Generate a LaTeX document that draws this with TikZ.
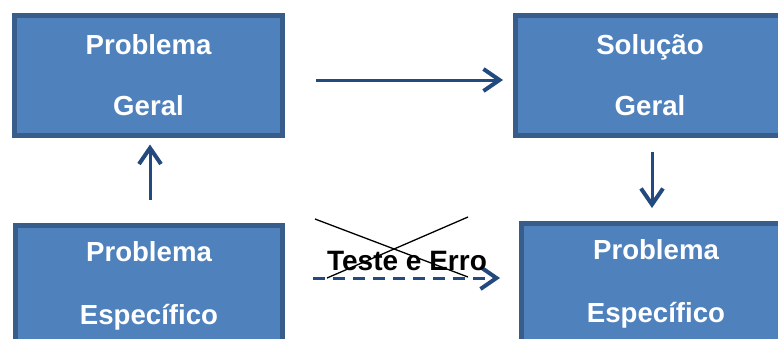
\documentclass[tikz,border=0pt]{standalone}
\usepackage{fontspec}
\setmainfont{Liberation Sans}
\usetikzlibrary{arrows.meta}
\definecolor{boxfill}{HTML}{4F81BD}
\definecolor{boxedge}{HTML}{385D8A}
\definecolor{arrowblue}{HTML}{234A7E}
\tikzset{
  box/.style={draw=boxedge, fill=boxfill, line width=5pt, rectangle,
    inner sep=0pt, align=center, text=white,
    font=\fontsize{27.6}{61}\selectfont\bfseries},
  lowbox/.style={box, font=\fontsize{27.6}{63}\selectfont\bfseries},
  flow/.style={draw=arrowblue, line width=3pt,
    -{Straight Barb[length=16pt,width=22pt,line width=4pt]}},
  trial/.style={flow, dash pattern=on 12pt off 8pt},
  cross/.style={draw=black, line width=1.3pt}
}
\begin{document}
\begin{tikzpicture}[x=1pt,y=-1pt]
  \useasboundingbox (0,0) rectangle (778,338);
  % the four boxes
  \node[box, minimum width=268pt, minimum height=120pt] (tl) at (148.5,75) {Problema\\Geral};
  \node[box, minimum width=269pt, minimum height=120pt] (tr) at (650,75) {Solução\\Geral};
  \node[lowbox, minimum width=267pt, minimum height=120pt] (bl) at (149,285.5) {Problema\\Específico};
  \node[lowbox, minimum width=269pt, minimum height=120pt] (br) at (656,283.5) {Problema\\Específico};
  % connectors
  \draw[flow] ([shift={(31pt,-5pt)}]tl.east) -- ([shift={(-10pt,-5pt)}]tr.west);
  \draw[flow] ([shift={(1pt,23pt)}]bl.north) -- ([shift={(1.5pt,-7pt)}]tl.south);
  \draw[flow] ([shift={(2pt,-14pt)}]tr.south) -- ([shift={(-4pt,13pt)}]br.north);
  \draw[trial] ([shift={(28pt,7.5pt)}]bl.east) -- ([shift={(-19pt,5.5pt)}]br.west);
  % crossed-out label
  \node[font=\fontsize{28}{32}\selectfont\bfseries, inner sep=0pt] (te) at (407,260.5) {Teste e Erro};
  \draw[cross] (315,219) -- (468,277);
  \draw[cross] (327,278) -- (468,217);
\end{tikzpicture}
\end{document}
